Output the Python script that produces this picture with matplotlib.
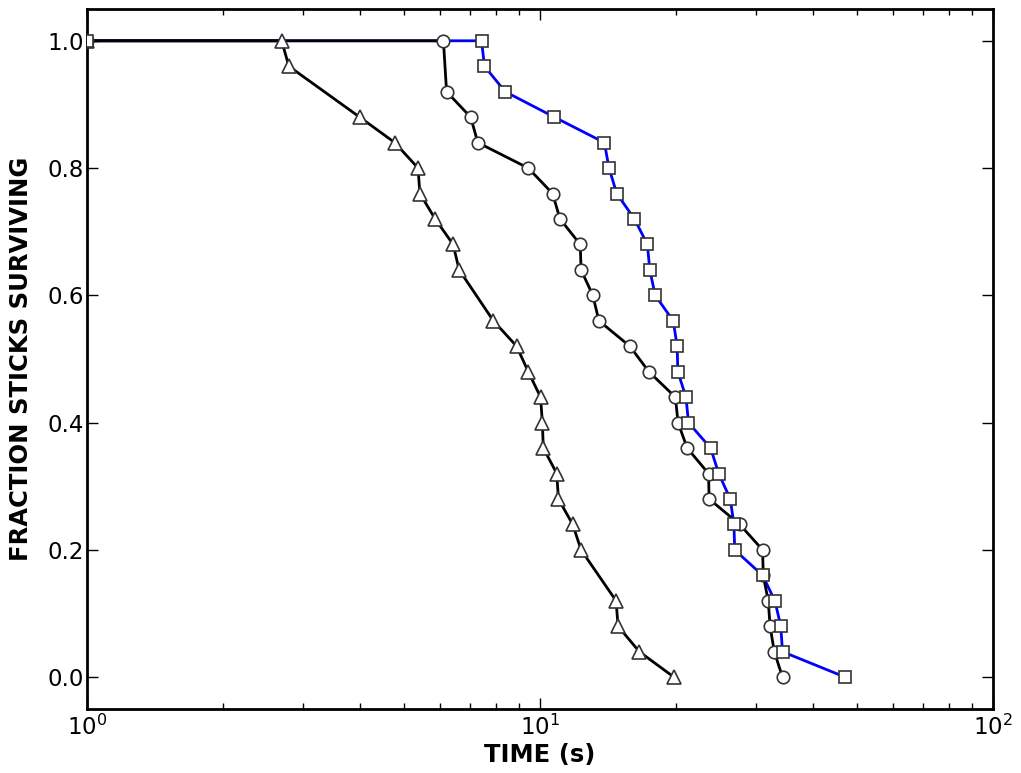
import matplotlib
matplotlib.use("Agg")
import matplotlib.pyplot as plt

# fraction of sticks surviving vs. time (s)
tri_time = [1.0, 2.69, 2.79, 4.00, 4.78, 5.38, 5.43, 5.87, 6.43, 6.63, 7.89, 8.88,
            9.42, 10.03, 10.12, 10.17, 10.89, 10.98, 11.81, 12.32, 14.72, 14.87,
            16.57, 19.76]
tri_frac = [1.00, 1.00, 0.96, 0.88, 0.84, 0.80, 0.76, 0.72, 0.68, 0.64, 0.56, 0.52,
            0.48, 0.44, 0.40, 0.36, 0.32, 0.28, 0.24, 0.20, 0.12, 0.08, 0.04, 0.00]

circ_time = [1.0, 6.12, 6.22, 7.03, 7.29, 9.42, 10.66, 11.07, 12.27, 12.32, 13.08,
             13.49, 15.79, 17.39, 19.90, 20.17, 21.13, 23.55, 23.62, 27.6, 31.0,
             31.1, 31.9, 32.2, 32.9, 34.3]
circ_frac = [1.00, 1.00, 0.92, 0.88, 0.84, 0.80, 0.76, 0.72, 0.68, 0.64, 0.60,
             0.56, 0.52, 0.48, 0.44, 0.40, 0.36, 0.32, 0.28, 0.24, 0.20,
             0.16, 0.12, 0.08, 0.04, 0.00]

sq_time = [1.0, 7.43, 7.54, 8.38, 10.76, 13.87, 14.20, 14.77, 16.16, 17.26, 17.47,
           17.96, 19.68, 20.08, 20.15, 21.0, 21.27, 23.8, 24.8, 26.3, 26.8, 26.9,
           31.0, 33.0, 34.0, 34.3, 47.2]
sq_frac = [1.00, 1.00, 0.96, 0.92, 0.88, 0.84, 0.80, 0.76, 0.72, 0.68, 0.64,
           0.60, 0.56, 0.52, 0.48, 0.44, 0.40, 0.36, 0.32, 0.28, 0.24, 0.20,
           0.16, 0.12, 0.08, 0.04, 0.00]

fig = plt.figure(figsize=(10.21, 7.73), dpi=100)
ax = fig.add_axes([0.0852, 0.0828, 0.8874, 0.9056])

# lines first, markers on top
ax.plot(sq_time, sq_frac, color='blue', lw=2, zorder=2)
ax.plot(circ_time, circ_frac, color='black', lw=2, zorder=2)
ax.plot(tri_time, tri_frac, color='black', lw=2, zorder=2)

mk = dict(linestyle='none', markerfacecolor='white', markeredgecolor='#333333',
          markeredgewidth=1.2, zorder=3)
ax.plot(circ_time, circ_frac, marker='o', markersize=9, **mk)
ax.plot(tri_time, tri_frac, marker='^', markersize=9.5, **mk)
ax.plot(sq_time, sq_frac, marker='s', markersize=8.5, **mk)

ax.set_xscale('log')
ax.set_xlim(1, 100)
ax.set_ylim(-0.05, 1.05)
ax.set_yticks([0.0, 0.2, 0.4, 0.6, 0.8, 1.0])
ax.set_yticklabels(['0.0', '0.2', '0.4', '0.6', '0.8', '1.0'])

ax.tick_params(which='both', direction='in', top=True, right=True, labelsize=16.5)
ax.tick_params(which='major', length=8, width=1)
ax.tick_params(which='minor', length=4, width=1)
ax.tick_params(axis='x', pad=4)
ax.tick_params(axis='y', pad=2.5)
for s in ax.spines.values():
    s.set_linewidth(2)

ax.set_xlabel('TIME (s)', fontsize=17.5, fontweight='bold', labelpad=2)
ax.set_ylabel('FRACTION STICKS SURVIVING', fontsize=17.5, fontweight='bold', labelpad=10)

fig.savefig('out.png', dpi=100)
